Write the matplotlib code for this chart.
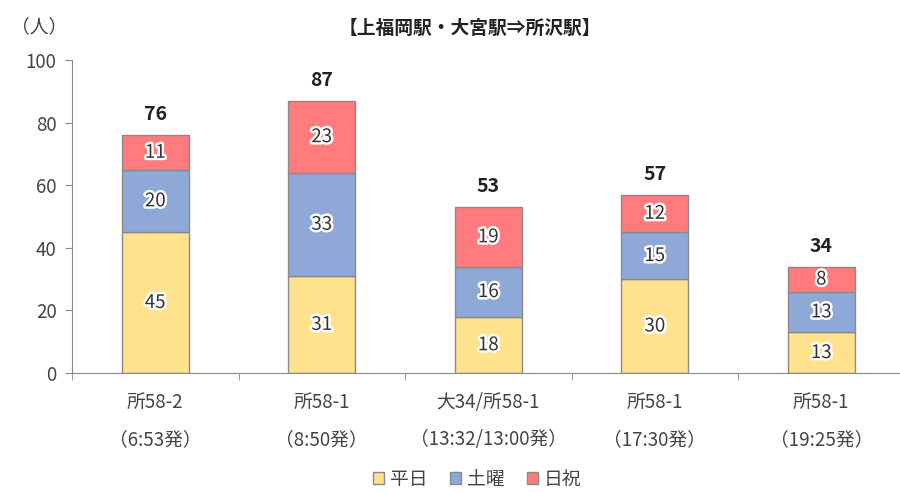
import matplotlib.pyplot as plt
import matplotlib.patheffects as pe
import numpy as np

plt.rcParams['font.family'] = ['Noto Sans CJK JP', 'DejaVu Sans']

routes = ['所58-2\n（6:53発）', '所58-1\n（8:50発）', '大34/所58-1\n（13:32/13:00発）',
          '所58-1\n（17:30発）', '所58-1\n（19:25発）']
heijitsu = [45, 31, 18, 30, 13]
doyou = [20, 33, 16, 15, 13]
kyujitsu = [11, 23, 19, 12, 8]

series = [('平日', heijitsu, '#FFE28D'),
          ('土曜', doyou, '#8EA9D8'),
          ('日祝', kyujitsu, '#FF7B7E')]

fig = plt.figure(figsize=(9, 4.92), dpi=100)
ax = fig.add_axes([0.08, 0.242, 0.925, 0.636])

x = np.arange(len(routes))
bottom = np.zeros(len(routes))
glow = [pe.withStroke(linewidth=3.5, foreground='white')]
for name, vals, color in series:
    vals = np.array(vals)
    ax.bar(x, vals, 0.4, bottom=bottom, color=color, edgecolor='#8a8a8a',
           linewidth=1.0, label=name)
    for xi, b, v in zip(x, bottom, vals):
        ax.text(xi, b + v / 2, str(v), ha='center', va='center', fontsize=13.5,
                color='#333333', path_effects=glow)
    bottom += vals

for xi, total in zip(x, bottom):
    ax.text(xi, total + 3.5, str(int(total)), ha='center', va='bottom',
            fontsize=14, fontweight='bold', color='#222222')

ax.set_xlim(-0.5, len(routes) - 0.5)
ax.set_ylim(0, 100)
ax.set_yticks(range(0, 101, 20))
ax.set_xticks(x)
ax.set_xticklabels(routes, fontsize=13.5, color='#444444', linespacing=2.0)
ax.set_xticks(np.arange(-0.5, len(routes)), minor=True)
ax.tick_params(axis='x', which='major', length=0, pad=14)
ax.tick_params(axis='x', which='minor', length=5, color='#8a8a8a')
ax.tick_params(axis='y', labelsize=13.5, labelcolor='#444444', color='#8a8a8a',
               length=5, pad=6)
for s in ['top', 'right']:
    ax.spines[s].set_visible(False)
for s in ['left', 'bottom']:
    ax.spines[s].set_color('#8a8a8a')

fig.text(0.012, 0.945, '（人）', fontsize=13.5, color='#444444',
         ha='left', va='center')
fig.text(0.522, 0.943, '【上福岡駅・大宮駅⇒所沢駅】', ha='center', va='center',
         fontsize=13.5, fontweight='bold', color='#222222')

fig.legend(loc='lower center', bbox_to_anchor=(0.53, -0.03), ncol=3,
           frameon=False, fontsize=13.5, handlelength=0.6, handleheight=0.6,
           handletextpad=0.3, columnspacing=1.2, labelcolor='#444444')

fig.savefig('out.png', dpi=100)
